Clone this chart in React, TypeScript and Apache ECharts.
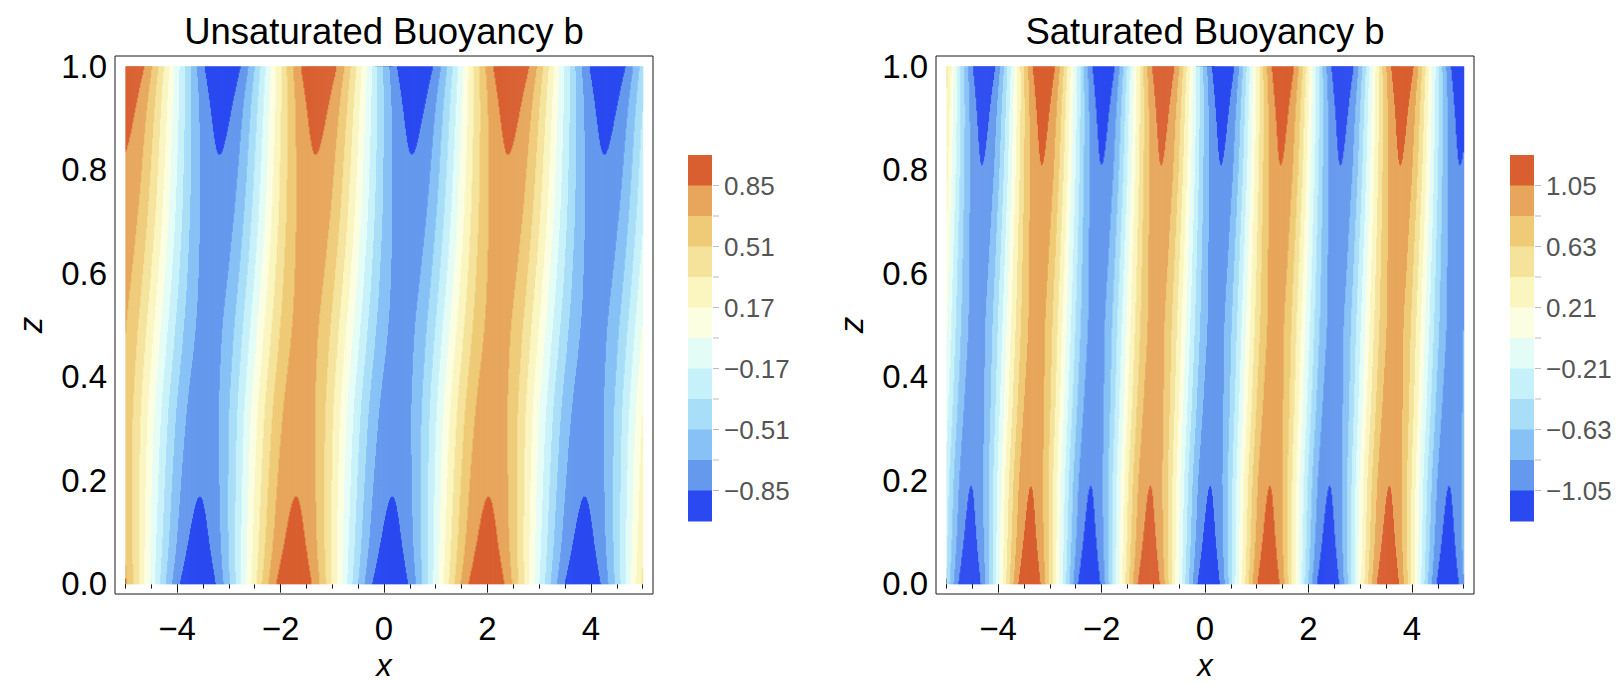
import React, { useEffect, useRef } from "react";
import * as echarts from "echarts";

// ---------- data ----------
const X_MAJOR = [-4, -2, 0, 2, 4];
const X_MINOR = [-5, -4.5, -3.5, -3, -2.5, -1.5, -1, -0.5, 0.5, 1, 1.5, 2.5, 3, 3.5, 4.5, 5];
const Z_MAJOR = [0, 0.2, 0.4, 0.6, 0.8, 1.0];
const Z_MINOR = [0.05, 0.1, 0.15, 0.25, 0.3, 0.35, 0.45, 0.5, 0.55, 0.65, 0.7, 0.75, 0.85, 0.9, 0.95];

// band colours, lowest band first
const BAND_COLORS = [
  "#2A49F0", "#6599EE", "#87C1F6", "#A8DEF8", "#C7F1FA", "#E3FDF6",
  "#FBFEE0", "#FBF6BF", "#F5E39B", "#EFCB77", "#E7A65B", "#D95F30",
];

// contour levels
const UNSAT_LEVELS = [-0.85, -0.68, -0.51, -0.34, -0.17, 0, 0.17, 0.34, 0.51, 0.68, 0.85];
const SAT_LEVELS = [-1.05, -0.84, -0.63, -0.42, -0.21, 0, 0.21, 0.42, 0.63, 0.84, 1.05];

// Unsaturated: horizontal wavelength, amplitude profile A(z), trough position x(z)
const UNSAT_WAVELENGTH = 3.72;
const UNSAT_AMP_Z = [0, 0.04, 0.085, 0.13, 0.17, 0.25, 0.35, 0.5, 0.65, 0.75, 0.83, 0.87, 0.915, 0.96, 1];
const UNSAT_AMP = [1.02, 0.95, 0.9, 0.87, 0.85, 0.815, 0.78, 0.75, 0.78, 0.815, 0.85, 0.87, 0.9, 0.95, 1.02];
const UNSAT_TROUGH_Z = [0, 0.17, 0.32, 0.46, 0.6, 0.73, 0.83, 1];
const UNSAT_TROUGH_X = [0.12, 0.16, 0.21, 0.31, 0.42, 0.5, 0.54, 0.6];

// Saturated
const SAT_WAVELENGTH = 2.31;
const SAT_AMP_Z = [0, 0.04, 0.09, 0.14, 0.19, 0.27, 0.37, 0.5, 0.63, 0.73, 0.81, 0.86, 0.91, 0.96, 1];
const SAT_AMP = [1.26, 1.175, 1.11, 1.075, 1.05, 1.005, 0.965, 0.93, 0.965, 1.005, 1.05, 1.075, 1.11, 1.175, 1.26];
const SAT_TROUGH_Z = [0, 0.19, 0.35, 0.5, 0.65, 0.81, 1];
const SAT_TROUGH_X = [0.07, 0.1, 0.16, 0.21, 0.26, 0.31, 0.35];

const TITLES = ["Unsaturated Buoyancy b", "Saturated Buoyancy b"];

// ---------- helpers ----------
function makeInterp(xs: number[], ys: number[]) {
  const n = xs.length;
  const h: number[] = [];
  const d: number[] = [];
  for (let i = 0; i < n - 1; i++) {
    h[i] = xs[i + 1] - xs[i];
    d[i] = (ys[i + 1] - ys[i]) / h[i];
  }
  const m: number[] = new Array(n);
  m[0] = d[0];
  m[n - 1] = d[n - 2];
  for (let i = 1; i < n - 1; i++) {
    if (d[i - 1] * d[i] <= 0) m[i] = 0;
    else {
      const w1 = 2 * h[i] + h[i - 1];
      const w2 = h[i] + 2 * h[i - 1];
      m[i] = (w1 + w2) / (w1 / d[i - 1] + w2 / d[i]);
    }
  }
  return (x: number) => {
    let i = 0;
    while (i < n - 2 && x > xs[i + 1]) i++;
    const t = (x - xs[i]) / h[i];
    const t2 = t * t;
    const t3 = t2 * t;
    return (
      (2 * t3 - 3 * t2 + 1) * ys[i] +
      (t3 - 2 * t2 + t) * h[i] * m[i] +
      (-2 * t3 + 3 * t2) * ys[i + 1] +
      (t3 - t2) * h[i] * m[i + 1]
    );
  };
}

function buildCells(
  levels: number[], lambda: number,
  az: number[], av: number[], tz: number[], tx: number[]
) {
  const A = makeInterp(az, av);
  const T = makeInterp(tz, tx);
  const NX = 520;
  const NZ = 520;
  const amp: number[] = [];
  const tr: number[] = [];
  for (let j = 0; j < NZ; j++) {
    const zc = (j + 0.5) / NZ;
    amp.push(A(zc));
    tr.push(T(zc));
  }
  const cells: number[][] = [];
  for (let i = 0; i < NX; i++) {
    const x0 = -5 + (10 * i) / NX;
    const x1 = -5 + (10 * (i + 1)) / NX;
    const xc = (x0 + x1) / 2;
    let runStart = 0;
    let runBand = -1;
    for (let j = 0; j < NZ; j++) {
      const b = -amp[j] * Math.cos((2 * Math.PI * (xc - tr[j])) / lambda);
      let band = 0;
      for (const L of levels) if (b > L) band++;
      if (band !== runBand) {
        if (runBand >= 0) cells.push([x0, x1, runStart, j / NZ, runBand]);
        runStart = j / NZ;
        runBand = band;
      }
    }
    cells.push([x0, x1, runStart, 1, runBand]);
  }
  return cells;
}

const FONT = "Liberation Sans, Arial, Helvetica, sans-serif";
const FRAME = 538;
const FRAME_TOP = 56;
const PANEL_LEFT = [115, 936];
const LEGEND_LEFT = [688, 1510];
const LEGEND_TOP = 155;
const LEGEND_BAND = 30.5;

const fmtX = (v: number) => (v < 0 ? "\u2212" + Math.abs(v) : String(v));
const fmtLegend = (v: number) => (v < 0 ? "\u2212" + Math.abs(v).toFixed(2) : v.toFixed(2));

export default function App() {
  const ref = useRef<HTMLDivElement>(null);
  useEffect(() => {
    if (!ref.current) return;
    const chart = echarts.init(ref.current, undefined, { renderer: "svg" });

    const cellsU = buildCells(UNSAT_LEVELS, UNSAT_WAVELENGTH, UNSAT_AMP_Z, UNSAT_AMP, UNSAT_TROUGH_Z, UNSAT_TROUGH_X);
    const cellsS = buildCells(SAT_LEVELS, SAT_WAVELENGTH, SAT_AMP_Z, SAT_AMP, SAT_TROUGH_Z, SAT_TROUGH_X);

    const pad = 0.02;
    const grids: any[] = [];
    const xAxes: any[] = [];
    const yAxes: any[] = [];
    const series: any[] = [];
    const graphics: any[] = [];
    const allLevels = [UNSAT_LEVELS, SAT_LEVELS];
    const allCells = [cellsU, cellsS];

    for (let g = 0; g < 2; g++) {
      grids.push({
        left: PANEL_LEFT[g], top: FRAME_TOP, width: FRAME, height: FRAME,
        show: true, borderColor: "#1a1a1a", borderWidth: 1, backgroundColor: "transparent",
      });
      const xBase = {
        gridIndex: g, type: "value", min: -5 - 10 * pad, max: 5 + 10 * pad,
        axisLine: { show: false }, splitLine: { show: false },
      };
      const yBase = {
        gridIndex: g, type: "value", min: -pad, max: 1 + pad,
        axisLine: { show: false }, splitLine: { show: false },
      };
      const tickStyle = { color: "#1a1a1a", width: 1 };
      for (const pos of ["bottom", "top"]) {
        xAxes.push({
          ...xBase, position: pos,
          axisTick: { show: true, inside: true, length: 9, customValues: X_MAJOR, lineStyle: tickStyle },
          axisLabel: pos === "bottom"
            ? { show: true, customValues: X_MAJOR, formatter: fmtX, fontSize: 33, lineHeight: 36, fontFamily: FONT, color: "#000", margin: 16 }
            : { show: false },
        });
        xAxes.push({
          ...xBase, position: pos,
          axisTick: { show: true, inside: true, length: 5, customValues: X_MINOR, lineStyle: tickStyle },
          axisLabel: { show: false },
        });
      }
      for (const pos of ["left", "right"]) {
        yAxes.push({
          ...yBase, position: pos,
          axisTick: { show: true, inside: true, length: 9, customValues: Z_MAJOR, lineStyle: tickStyle },
          axisLabel: pos === "left"
            ? { show: true, customValues: Z_MAJOR, formatter: (v: number) => v.toFixed(1), fontSize: 33, fontFamily: FONT, color: "#000", margin: 8 }
            : { show: false },
        });
        yAxes.push({
          ...yBase, position: pos,
          axisTick: { show: true, inside: true, length: 5, customValues: Z_MINOR, lineStyle: tickStyle },
          axisLabel: { show: false },
        });
      }
      series.push({
        type: "custom",
        xAxisIndex: g * 4,
        yAxisIndex: g * 4,
        silent: true,
        encode: { x: [0, 1], y: [2, 3] },
        data: allCells[g],
        renderItem: (params: any, api: any) => {
          const p0 = api.coord([api.value(0), api.value(3)]);
          const p1 = api.coord([api.value(1), api.value(2)]);
          return {
            type: "rect",
            shape: { x: p0[0], y: p0[1], width: p1[0] - p0[0] + 0.6, height: p1[1] - p0[1] + 0.6 },
            style: { fill: BAND_COLORS[api.value(4)] },
          };
        },
      });

      const cx = PANEL_LEFT[g] + FRAME / 2;
      graphics.push({
        type: "text", x: cx, y: 31,
        style: { text: TITLES[g], font: `36.5px ${FONT}`, fill: "#000", align: "center", verticalAlign: "middle", textAlign: "center", textVerticalAlign: "middle" },
      });
      graphics.push({
        type: "text", x: cx, y: 665,
        style: { text: "x", font: `italic 31px ${FONT}`, fill: "#000", align: "center", verticalAlign: "middle", textAlign: "center", textVerticalAlign: "middle" },
      });
      graphics.push({
        type: "text", x: PANEL_LEFT[g] - 85, y: FRAME_TOP + FRAME / 2, rotation: Math.PI / 2,
        style: { text: "z", font: `italic 33px ${FONT}`, fill: "#000", align: "center", verticalAlign: "middle", textAlign: "center", textVerticalAlign: "middle" },
      });

      // legend
      const lv = allLevels[g];
      const nb = BAND_COLORS.length;
      for (let k = 0; k < nb; k++) {
        graphics.push({
          type: "rect",
          shape: { x: LEGEND_LEFT[g], y: LEGEND_TOP + k * LEGEND_BAND, width: 24, height: LEGEND_BAND + 0.5 },
          style: { fill: BAND_COLORS[nb - 1 - k] },
        });
      }
      for (let k = 0; k < lv.length; k++) {
        const yy = LEGEND_TOP + (k + 1) * LEGEND_BAND;
        graphics.push({
          type: "line",
          shape: { x1: LEGEND_LEFT[g] + 25, y1: yy, x2: LEGEND_LEFT[g] + 31, y2: yy },
          style: { stroke: "#bbbbbb", lineWidth: 1 },
        });
        if (k % 2 === 0) {
          graphics.push({
            type: "text", x: LEGEND_LEFT[g] + 36, y: yy,
            style: { text: fmtLegend(lv[lv.length - 1 - k]), font: `26px ${FONT}`, fill: "#555555", align: "left", verticalAlign: "middle", textAlign: "left", textVerticalAlign: "middle" },
          });
        }
      }
    }

    chart.setOption({
      animation: false,
      backgroundColor: "#ffffff",
      grid: grids,
      xAxis: xAxes,
      yAxis: yAxes,
      series,
      graphic: { elements: graphics },
    });
    return () => chart.dispose();
  }, []);

  return (
    <div
      ref={ref}
      style={{ position: "fixed", left: 0, top: 0, width: 1619, height: 685, background: "#fff" }}
    />
  );
}
